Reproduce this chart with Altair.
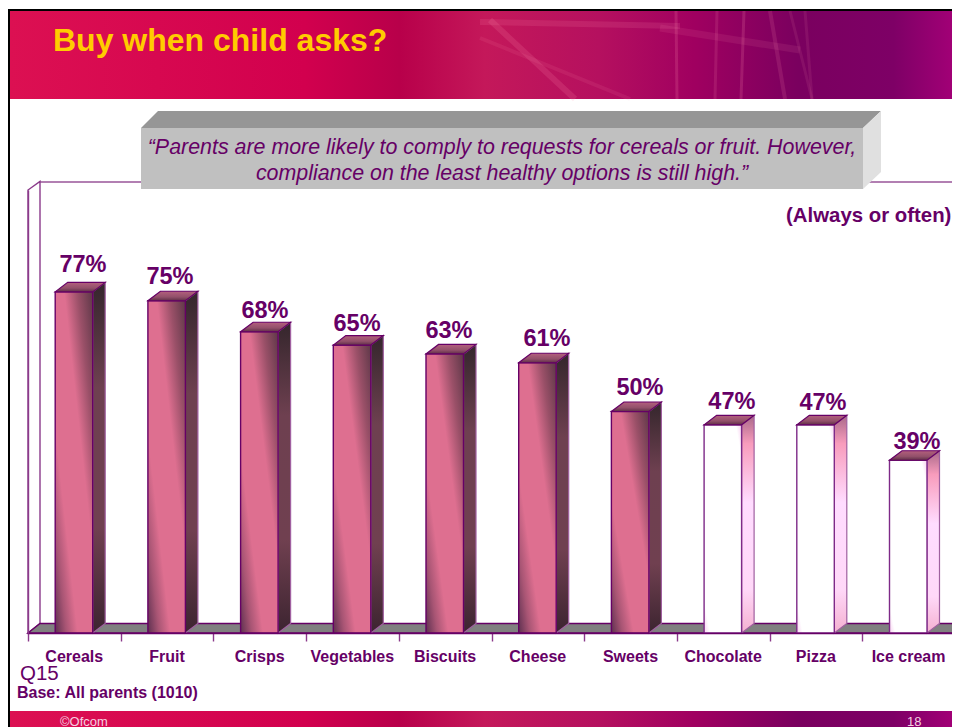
import altair as alt
import pandas as pd

# ---- chart values -------------------------------------------------------
categories = ["Cereals", "Fruit", "Crisps", "Vegetables", "Biscuits",
              "Cheese", "Sweets", "Chocolate", "Pizza", "Ice cream"]
values = [77, 75, 68, 65, 63, 61, 50, 47, 47, 39]
white_categories = ["Chocolate", "Pizza", "Ice cream"]

title_text = "Buy when child asks?"
quote_lines = ["\u201cParents are more likely to comply to requests for cereals or fruit. However,",
               "compliance on the least healthy options is still high.\u201d"]
note_text = "(Always or often)"
question_text = "Q15"
base_text = "Base: All parents (1010)"
footer_left = "\u00a9Ofcom"
footer_right = "18"

# ---- layout (reference pixels) ------------------------------------------
PAGE = 8
CANVAS_W = 944              # the page shrinks anything wider than its 944px body
X0, Y0 = 28, 190            # plot top-left in reference pixels
PW, PH = 927, 443
CAT = PW / 10
PX_PER_PCT = PH / 100
BAR_OFF, BAR_W = 27.2 / CAT, 37.5 / CAT
DX, DY = 12.5 / CAT, 9.5 / PX_PER_PCT
PURPLE = "#660066"
EDGE = "#A060A0"
FONT = "Liberation Sans"

def vx(px): return px - X0
def vy(py): return py - Y0
def dx_data(px): return (px - X0) / CAT
def dy_data(py): return (Y0 + PH - py) / PX_PER_PCT

xs = alt.Scale(domain=[0, 10], range=[0, PW], nice=False, zero=False)
ys = alt.Scale(domain=[0, 100], range=[PH, 0], nice=False, zero=False)
X = lambda f="x": alt.X(f"{f}:Q", scale=xs, axis=None)
Y = lambda f="y": alt.Y(f"{f}:Q", scale=ys, axis=None, stack=None)
one = pd.DataFrame({"a": [0]})

def grad(stops, x1=0, y1=0, x2=1, y2=0):
    return {"gradient": "linear", "x1": x1, "y1": y1, "x2": x2, "y2": y2,
            "stops": [{"offset": o, "color": c} for o, c in stops]}

def prect(x0, x1, y0, y1, fill):
    return alt.Chart(one).mark_rect(fill=fill, strokeWidth=0).encode(
        x=alt.value(vx(x0)), x2=alt.value(vx(x1)), y=alt.value(vy(y0)), y2=alt.value(vy(y1)))

def pline(x0, y0, x1, y1, color, w=1.0, op=1.0):
    return alt.Chart(one).mark_rule(color=color, strokeWidth=w, opacity=op).encode(
        x=alt.value(vx(x0)), x2=alt.value(vx(x1)), y=alt.value(vy(y0)), y2=alt.value(vy(y1)))

def ptext(s, x, y, size, color=PURPLE, bold=False, italic=False, align="left"):
    return alt.Chart(pd.DataFrame({"t": [s]})).mark_text(
        font=FONT, fontSize=size, color=color, align=align, baseline="alphabetic",
        fontWeight="bold" if bold else "normal",
        fontStyle="italic" if italic else "normal").encode(
        text="t:N", x=alt.value(vx(x)), y=alt.value(vy(y)))

def poly_area(rows, fill, stroke=None, w=1.0):
    df = pd.DataFrame(rows, columns=["x", "y", "y2", "id"])
    kw = dict(fill=fill, orient="vertical", interpolate="linear")
    if stroke:
        kw.update(stroke=stroke, strokeWidth=w)
    else:
        kw.update(strokeWidth=0)
    return alt.Chart(df).mark_area(**kw).encode(
        x=X(), y=Y(), y2="y2:Q", detail="id:N")

band = [(0, "#DC1052"), (0.31, "#D2004E"), (0.41, "#B8004A"), (0.5, "#C4185A"),
        (0.62, "#B5105F"), (0.72, "#A00060"), (0.83, "#7A005F"), (0.93, "#7E0066"), (1, "#A60078")]

layers = []
# frame and bands
layers.append(prect(8, 960, 9, 727, "#000000"))
layers.append(prect(10, 960, 11, 727, "#FFFFFF"))
layers.append(prect(10, 960, 11, 99, grad(band)))
layers.append(prect(10, 960, 711, 727, grad(band)))
for s in [(676, 11, 677, 99, 3, .18), (717, 11, 715, 99, 3, .14), (744, 11, 741, 99, 3, .18),
          (770, 11, 785, 99, 4, .14), (790, 11, 812, 99, 3, .1), (805, 11, 812, 99, 3, .1),
          (490, 20, 575, 99, 6, .16), (480, 38, 630, 99, 4, .1), (480, 22, 680, 26, 6, .14),
          (660, 28, 800, 50, 7, .1)]:
    layers.append(pline(s[0], s[1], s[2], s[3], "#FF8FB0", s[4], s[5]))

# back wall, left wall and floor
layers.append(pline(40, 182, 960, 182, PURPLE, 1.2))
wall = [(0, 0, 100, "w"), (DX * 0.96, DY, 100 + DY * 0.9, "w")]
layers.append(poly_area(wall, "#FFFFFF", "#8B3A8B", 1.4))
floor = [(0, 0, 0, "f"), (DX * 0.96, 0, DY, "f"), (10, 0, DY, "f"), (10 + DX * 0.96, DY, DY, "f")]
layers.append(poly_area(floor, "#808080", PURPLE, 1.4))

# axis layer
tick_vals = list(range(11))
label_expr = "datum.value < 10 ? " + str(categories) + "[datum.value] : ''"
axis_layer = alt.Chart(one).mark_rule(opacity=0).encode(
    x=alt.X("a:Q", scale=xs, title=None, axis=alt.Axis(
        values=tick_vals, labelExpr=label_expr, labelOffset=CAT / 2 - 0.6, zindex=1,
        labelFont=FONT, labelFontSize=16, labelFontWeight="bold", labelColor=PURPLE,
        tickColor="#8B3A8B", tickSize=8, tickWidth=1.4, domainColor=PURPLE, domainWidth=1.4,
        labelPadding=7, grid=False, labelBound=False, labelFlush=False, labelOverlap=False)),
    y=alt.Y("a:Q", scale=ys, title=None, axis=alt.Axis(
        labels=False, ticks=False, grid=False, domainColor="#8B3A8B", domainWidth=1.4, zindex=1)))
layers.insert(0, axis_layer)

# bars
rows = []
for i, (c, v) in enumerate(zip(categories, values)):
    rows.append({"cat": c, "left": i + BAR_OFF, "right": i + BAR_OFF + BAR_W, "v": v, "zero": 0})
bars = pd.DataFrame(rows)

front_c = grad([(0, "#5E3050"), (0.15, "#A85574"), (0.3, "#DE6F90"), (0.62, "#DE6F90"),
                (0.8, "#9A5068"), (1, "#5E3848")], 0, 1, 1, 0)
front_w = grad([(0, "#F8D0F0"), (0.08, "#FFFFFF"), (0.92, "#FFFFFF"), (1, "#F8D0F0")], 0, 1, 1, 0)
side_c = grad([(0, "#34262C"), (0.3, "#6E4050"), (0.7, "#704050"), (1, "#3C2430")], 0, 0, 0, 1)
side_w = grad([(0, "#A86888"), (0.13, "#F89CBC"), (0.4, "#FFDCFF"), (0.8, "#FFD8F8"), (1, "#F4B0D0")], 0, 0, 0, 1)
top_f = grad([(0, "#B4607E"), (0.6, "#92506A"), (1, "#5E2E46")], 0, 0, 0, 1)

side_rows = {True: [], False: []}
top_rows = []
for i, (c, v) in enumerate(zip(categories, values)):
    l = i + BAR_OFF
    r = l + BAR_W
    white = c in white_categories
    side_rows[white] += [(r, 0, v, c), (r + DX, DY, v + DY, c)]
    top_rows += [(l, v, v, c), (l + DX, v, v + DY, c), (r, v, v + DY, c), (r + DX, v + DY, v + DY, c)]

for white, front, side in [(False, front_c, side_c), (True, front_w, side_w)]:
    sub = bars[bars.cat.isin(white_categories) == white]
    layers.append(poly_area(side_rows[white], side, EDGE, 1.2))
    layers.append(alt.Chart(sub).mark_rect(fill=front, stroke="#7E2A88" if white else PURPLE, strokeWidth=1.4).encode(
        x=X("left"), x2="right:Q", y=Y("v"), y2="zero:Q"))
layers.append(poly_area(top_rows, top_f, PURPLE, 1.2))

# value labels
label_dx = [9, 3.3, 5.6, 5, 4.2, 9.5, 9.8, 9, 7.4, 8.7]
label_dy = [20, 17, 14, 14, 16, 17, 16.5, 16, 15, 11]
for i, (c, v) in enumerate(zip(categories, values)):
    d = pd.DataFrame({"x": [i + BAR_OFF + BAR_W / 2], "y": [v], "t": [f"{v}%"]})
    layers.append(alt.Chart(d).mark_text(
        font=FONT, fontSize=23.5, fontWeight="bold", color=PURPLE, baseline="alphabetic",
        align="center", dx=label_dx[i], dy=-label_dy[i]).encode(x=X(), y=Y(), text="t:N"))

# callout box
layers.append(prect(141, 863, 128, 189, "#C0C0C0"))
top_box = [(dx_data(141), dy_data(128), dy_data(128), "t"), (dx_data(158), dy_data(128), dy_data(111), "t"),
           (dx_data(863), dy_data(128), dy_data(111), "t"), (dx_data(881), dy_data(111), dy_data(111), "t")]
layers.append(poly_area(top_box, "#969696"))
side_box = [(dx_data(863), dy_data(189), dy_data(128), "s"), (dx_data(881), dy_data(172), dy_data(111), "s")]
layers.append(poly_area(side_box, "#E0E0E0"))

# texts
layers.append(ptext(title_text, 53, 51, 32, "#FFCC00", bold=True))
layers.append(ptext(quote_lines[0], 502, 154, 21.4, italic=True, align="center"))
layers.append(ptext(quote_lines[1], 502, 180, 21.4, italic=True, align="center"))
layers.append(ptext(note_text, 786, 222, 20.4, bold=True))
layers.append(ptext(question_text, 20, 680, 20.5))
layers.append(ptext(base_text, 17, 698, 16, bold=True))
layers.append(ptext(footer_left, 60, 725.5, 13, "#F4D0E0"))
layers.append(ptext(footer_right, 907, 725.5, 13, "#F4D0E0"))

chart = alt.layer(*layers).resolve_axis(x="independent", y="independent").properties(
    width=PW, height=PH, background="#FFFFFF",
    autosize=alt.AutoSizeParams(type="none"),
    padding={"left": X0 - PAGE, "top": Y0 - PAGE, "right": CANVAS_W - (X0 - PAGE) - PW,
             "bottom": 727 - Y0 - PH},
).configure_view(stroke=None)

chart.save("out.html", embed_options={"renderer": "svg", "actions": False})
